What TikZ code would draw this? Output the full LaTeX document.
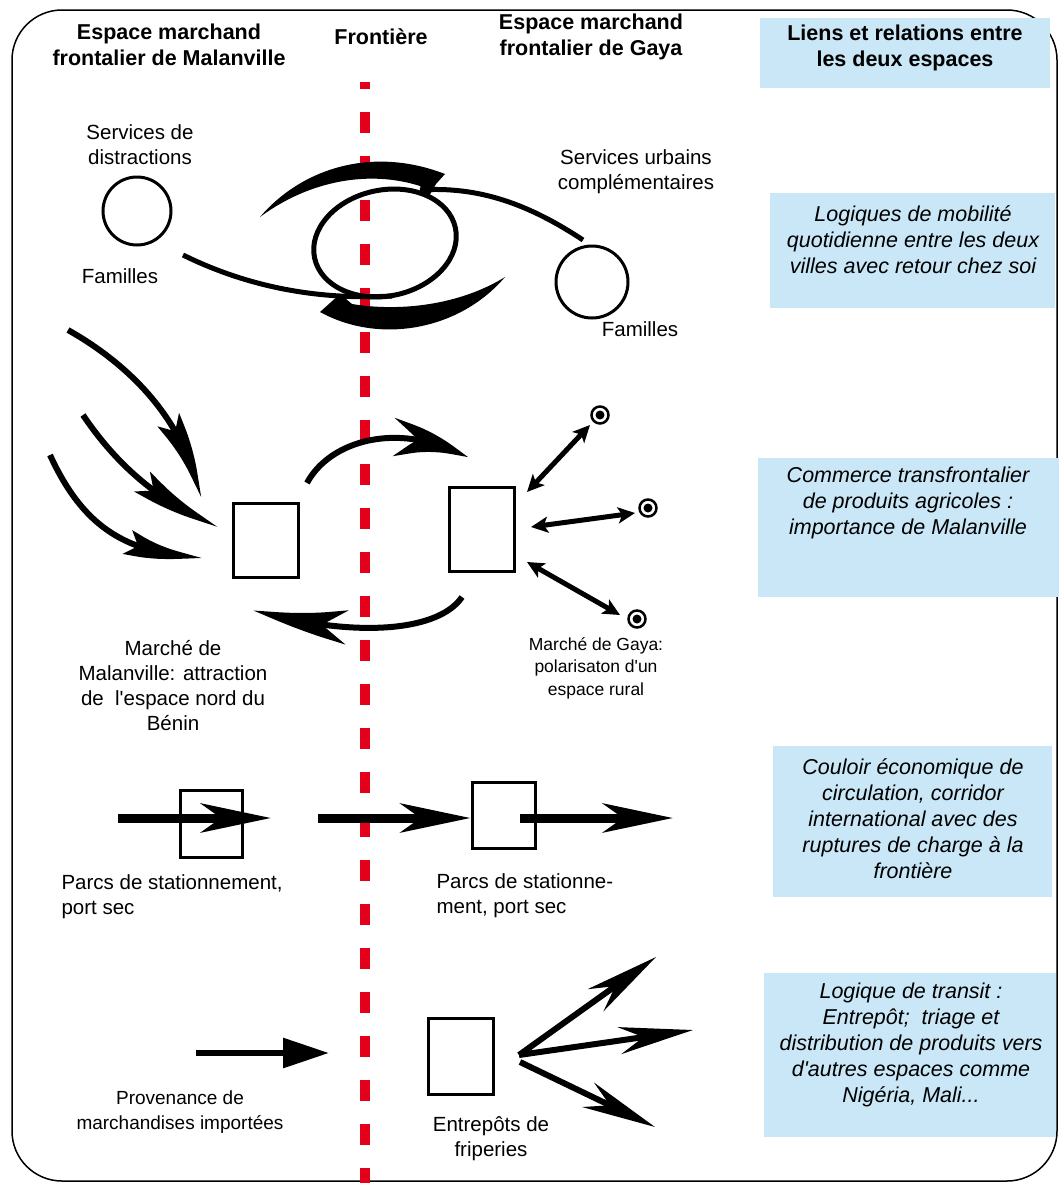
\documentclass[tikz,border=0pt]{standalone}
\usepackage{fontspec}
\setmainfont{Liberation Sans}
\usetikzlibrary{arrows.meta,bending}
\definecolor{frontred}{HTML}{E3001B}
\definecolor{liensblue}{HTML}{C9E7F6}

\tikzset{
	lbl/.style={align=center, font=\fontsize{20.5}{25}\selectfont},
	entete/.style={align=center, font=\bfseries\fontsize{21.5}{25.5}\selectfont},
	liens/.style={align=center, font=\itshape\fontsize{21.5}{26}\selectfont},
	boite/.style={fill=liensblue, inner sep=0pt},
	carre/.style={draw, line width=3pt, inner sep=0pt},
	lieu/.style={circle, draw, line width=3pt, inner sep=0pt, minimum size=68pt},
	village/.style={circle, draw, line width=2.5pt, inner sep=0pt, minimum size=17pt,
		path picture={\fill (path picture bounding box.center) circle (4.5pt);}},
	frontiere/.style={frontred, line width=10pt, dash pattern=on 21pt off 23pt, dash phase=14pt},
	boucle/.style={line width=5pt},
	afflux/.style={line width=6pt, -{Stealth[length=88pt, width=25pt, inset=14pt, bend]}},
	echange/.style={line width=6pt},
	piste/.style={line width=5pt, {Stealth[length=17pt, width=16pt, inset=4pt]}-{Stealth[length=17pt, width=16pt, inset=4pt]}},
	couloir/.style={line width=9pt, -{Stealth[length=70pt, width=29pt, inset=20pt]}},
	transit/.style={line width=6pt, -{Stealth[length=74pt, width=27pt, inset=24pt]}}
}

\begin{document}
\begin{tikzpicture}[x=1pt, y=-1pt]
	\useasboundingbox (0,0) rectangle (1062,1183);
	\draw[line width=1.5pt, rounded corners=50pt] (12,10) rectangle (1057,1181);

	% frontiere
	\draw[frontiere] (365,82) -- (365,1183);

	% en-tetes
	\node[entete] (hMal) at (169,45) {Espace marchand\\frontalier de Malanville};
	\node[entete] (hFront) at (381,37) {Frontière};
	\node[entete] (hGaya) at (591,37) {Espace marchand\\frontalier de Gaya};

	% colonne des liens
	\node[boite, minimum width=290pt, minimum height=70pt] (b1) at (905,53) {};
	\node[entete] (t1) at (905,48) {Liens et relations entre\\les deux espaces};
	\node[boite, minimum width=285pt, minimum height=115pt] (b2) at (912.5,250.5) {};
	\node[liens] (t2) at (913,240) {Logiques de mobilité\\quotidienne entre les deux\\villes avec retour chez soi};
	\node[boite, minimum width=301pt, minimum height=139pt] (b3) at (908.5,527.5) {};
	\node[liens] (t3) at (908,503) {Commerce transfrontalier\\de produits agricoles :\\importance de Malanville};
	\node[boite, minimum width=279pt, minimum height=151pt] (b4) at (912.5,821.5) {};
	\node[liens] (t4) at (913,819) {Couloir économique de\\circulation, corridor\\international avec des\\ruptures de charge à la\\frontière};
	\node[boite, minimum width=292pt, minimum height=164pt] (b5) at (910,1055) {};
	\node[liens] (t5) at (911,1045) {Logique de transit :\\Entrepôt;~ triage et\\distribution de produits vers\\d\textquotesingle autres espaces comme\\Nigéria, Mali...};

	% mobilite quotidienne
	\node[lieu] (famMal) at (137,211) {};
	\node[lieu, minimum size=72pt] (famGaya) at (592,282) {};
	\node[lbl] (lDistr) at (140,145) {Services de\\distractions};
	\node[lbl] (lFamMal) at (120,276) {Familles};
	\node[lbl] (lUrb) at (636,172) {Services urbains\\complémentaires};
	\node[lbl] (lFamGaya) at (640,329) {Familles};
	\coordinate (dMal) at (183,255);
	\coordinate (dGaya) at (583,240);
	\draw[boucle, rotate around={12:(385,243)}] (385,243) ellipse [x radius=72pt, y radius=53pt];
	\draw[boucle] (dMal) .. controls (250,288) and (320,300) .. (392,296);
	\draw[boucle] (dGaya) .. controls (530,205) and (480,186) .. (420,190);
	\fill (260,217) .. controls (300,170) and (370,145) .. (445,174) -- (436,184) -- (428,198)
		-- (420,186) .. controls (370,170) and (310,180) .. (260,217);
	\fill (505,277) .. controls (460,330) and (380,345) .. (320,312) -- (340,294)
		-- (352,304) .. controls (400,312) and (460,305) .. (505,277);

	% commerce de produits agricoles
	\node[carre, minimum width=65pt, minimum height=74pt] (mMal) at (265.5,540) {};
	\node[carre, minimum width=65pt, minimum height=84pt] (mGaya) at (481.5,529) {};
	\node[village] (v1) at (600,415) {};
	\node[village] (v2) at (648,508) {};
	\node[village] (v3) at (637,619) {};
	\coordinate (n1) at (68,330);
	\coordinate (n2) at (83,415);
	\coordinate (n3) at (50,455);
	\coordinate (p1) at (200,498);
	\coordinate (p2) at (218,526);
	\coordinate (p3) at (203,557);
	\draw[afflux] (n1) .. controls (130,365) and (185,420) .. (p1);
	\draw[afflux] (n2) .. controls (120,470) and (165,505) .. (p2);
	\draw[afflux] (n3) .. controls (80,520) and (120,555) .. (p3);
	\coordinate (e1) at (307,483);
	\coordinate (e2) at (468,458);
	\coordinate (e3) at (462,597);
	\coordinate (e4) at (253,610);
	\draw[echange, -{Stealth[length=85pt, width=38pt, inset=28pt, bend]}] (e1) .. controls (330,440) and (400,420) .. (e2);
	\draw[echange, -{Stealth[length=105pt, width=34pt, inset=30pt, bend]}] (e3) .. controls (440,630) and (360,640) .. (e4);
	\coordinate (r1) at (527,492);
	\coordinate (r2) at (531,527);
	\coordinate (r3) at (527,562);
	\draw[piste] (r1) -- (590,425);
	\draw[piste] (r2) -- (635,513);
	\draw[piste] (r3) -- (620,615);
	\node[lbl] (lMal) at (173,686) {Marché de\\Malanville: attraction\\de~ l\textquotesingle espace nord du\\Bénin};
	\node[lbl, font=\fontsize{17.5}{22.5}\selectfont] (lGaya) at (596,668) {Marché de Gaya:\\polarisaton d\textquotesingle un\\espace rural};

	% couloir economique
	\node[carre, minimum width=62pt, minimum height=67pt] (parcMal) at (211,823.5) {};
	\node[carre, minimum width=63pt, minimum height=66pt] (parcGaya) at (503.5,815) {};
	\coordinate (c1) at (118,818);
	\coordinate (c2) at (271,818);
	\coordinate (c3) at (318,818);
	\coordinate (c4) at (520,818);
	\coordinate (c5) at (673,818);
	\draw[couloir] (c1) -- (c2);
	\draw[couloir] (c3) -- (c3 -| parcGaya.west);
	\draw[couloir] (c4) -- (c5);
	\node[lbl, align=left, anchor=west] (lParcMal) at (58,897) {Parcs de stationnement,\\port sec};
	\node[lbl, align=left, anchor=west] (lParcGaya) at (433,896) {Parcs de stationne-\\ment, port sec};

	% transit
	\node[carre, minimum width=65pt, minimum height=76pt] (entrepot) at (460.5,1056) {};
	\coordinate (i1) at (196,1053);
	\coordinate (i2) at (329,1053);
	\draw[line width=6pt, -{Triangle[length=46pt, width=29pt]}] (i1) -- (i2);
	\coordinate (o0) at (519,1055);
	\coordinate (o1) at (656,957);
	\coordinate (o2) at (693,1030);
	\coordinate (o3) at (655,1127);
	\draw[transit] (o0) -- (o1);
	\draw[transit] (o0) -- (o2);
	\draw[transit] (520,1062) -- (o3);
	\node[lbl, font=\fontsize{19}{25}\selectfont] (lProv) at (180,1112) {Provenance de\\marchandises importées};
	\node[lbl] (lEntr) at (491,1139) {Entrepôts de\\friperies};
\end{tikzpicture}
\end{document}
